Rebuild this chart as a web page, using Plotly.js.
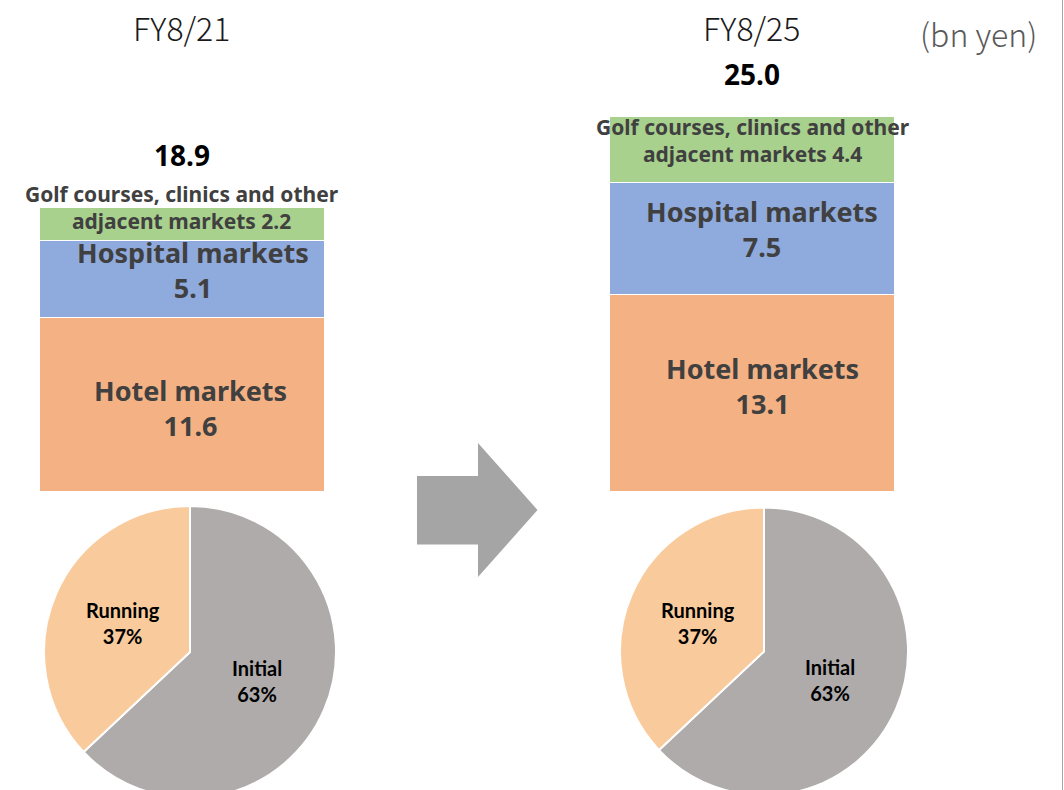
<!DOCTYPE html>
<html><head><meta charset="utf-8">
<script src="https://cdn.plot.ly/plotly-3.0.1.min.js"></script>
<style>html,body{margin:0;padding:0;overflow:hidden;background:#fff}</style>
</head><body><div id="chart" style="width:1064px;height:820px"></div>
<script>
// ---- data ----
const years = ['FY8/21', 'FY8/25'];
const hotel = [11.6, 13.1];
const hospital = [5.1, 7.5];
const golf = [2.2, 4.4];
const segmentLabels = ['Hotel markets', 'Hospital markets', 'Golf courses, clinics and other<br>adjacent markets'];
const revenueTypes = ['Initial', 'Running'];
const revenueShareFY21 = [63, 37];
const revenueShareFY25 = [63, 37];
const unitLabel = '(bn yen)';

// ---- layout helpers ----
const W = 1064, H = 820;
const px = x => x / W;
const py = y => (H - y) / H;

const barColors = ['#F4B183', '#8FAADC', '#A9D18E'];
const pieColors = ['#AFABAB', '#F9CB9C'];
const labelFont = {family: 'Noto Sans, sans-serif', size: 27, color: '#404040', weight: 700};
const golfFont = {family: 'Noto Sans, sans-serif', size: 21, color: '#404040', weight: 700};

const series = [hotel, hospital, golf];
const traces = series.map((vals, k) => ({
  type: 'bar', x: years, y: vals, width: 0.5,
  marker: {color: barColors[k], line: {color: '#ffffff', width: 1}},
  hoverinfo: 'skip', showlegend: false, xaxis: 'x', yaxis: 'y'
}));

// pies
const pieGeom = [
  {cx: 190, cy: 652, r: 146, vals: revenueShareFY21},
  {cx: 764, cy: 651.5, r: 144, vals: revenueShareFY25}
];
pieGeom.forEach(g => {
  traces.push({
    type: 'pie', labels: revenueTypes, values: g.vals, sort: false,
    direction: 'clockwise', rotation: 0, textinfo: 'none', hoverinfo: 'skip',
    marker: {colors: pieColors, line: {color: '#ffffff', width: 2}},
    domain: {x: [px(g.cx - g.r), px(g.cx + g.r)], y: [py(g.cy + g.r), py(g.cy - g.r)]},
    showlegend: false
  });
});

const annotations = [];
const C = {xanchor: 'center', yanchor: 'middle', showarrow: false};
// segment labels inside bars
const shifts = [
  {x: [9, 11], y: [-4, 7]},
  {x: [11, 10], y: [9, 9.5]},
  {x: [0, 1], y: [17, 9]}
];
years.forEach((yr, i) => {
  let base = 0;
  series.forEach((vals, k) => {
    const v = vals[i];
    annotations.push(Object.assign({
      x: yr, y: base + v / 2, xref: 'x', yref: 'y',
      text: segmentLabels[k] + (k === 2 ? ' ' : '<br>') + v.toFixed(1),
      font: k === 2 ? golfFont : labelFont,
      xshift: shifts[k].x[i], yshift: shifts[k].y[i]
    }, C));
    base += v;
  });
  // totals
  const total = hotel[i] + hospital[i] + golf[i];
  annotations.push(Object.assign({
    x: yr, y: total, xref: 'x', yref: 'y', text: total.toFixed(1),
    font: {family: 'Noto Sans, sans-serif', size: 28, color: '#000000', weight: 700},
    yshift: [53, 42][i]
  }, C));
  // year titles
  annotations.push(Object.assign({
    x: yr, y: py(27), xref: 'x', yref: 'paper', text: yr,
    font: {family: 'Noto Sans CJK JP, sans-serif', size: 32, color: '#1a1a1a', weight: 300}
  }, C));
});
// unit
annotations.push(Object.assign({
  x: px(978), y: py(33), xref: 'paper', yref: 'paper', text: unitLabel,
  font: {family: 'Noto Sans CJK JP, sans-serif', size: 32, color: '#595959', weight: 300}
}, C));
// pie labels
pieGeom.forEach(g => {
  const sum = g.vals.reduce((a, b) => a + b, 0);
  let cum = 0;
  g.vals.forEach((v, j) => {
    const th = 2 * Math.PI * (cum + v / 2) / sum;
    const lx = g.cx + 0.5 * g.r * Math.sin(th);
    const ly = g.cy - 0.5 * g.r * Math.cos(th);
    annotations.push(Object.assign({
      x: px(lx), y: py(ly), xref: 'paper', yref: 'paper',
      text: revenueTypes[j] + '<br>' + Math.round(v / sum * 100) + '%',
      font: {family: 'Lato, sans-serif', size: 20, color: '#000000', weight: 700}
    }, C));
    cum += v;
  });
});

// arrow
const arrowPts = [[417, 476], [478, 476], [478, 443], [537.5, 510], [478, 577], [478, 544.5], [417, 544.5]];
const arrowPath = 'M' + arrowPts.map(p => px(p[0]).toFixed(5) + ',' + py(p[1]).toFixed(5)).join(' L') + ' Z';

const layout = {
  width: W, height: H,
  margin: {l: 0, r: 0, t: 0, b: 0},
  paper_bgcolor: '#ffffff', plot_bgcolor: 'rgba(0,0,0,0)',
  barmode: 'stack',
  xaxis: {domain: [px(10.5), px(922.5)], range: [-0.3, 1.3], type: 'category',
          categoryarray: years, visible: false, fixedrange: true},
  yaxis: {domain: [py(491), py(41)], range: [0, 30], visible: false, fixedrange: true},
  annotations: annotations,
  shapes: [
    {type: 'path', path: arrowPath, xref: 'paper', yref: 'paper', fillcolor: '#A5A5A5', line: {width: 0}},
    {type: 'line', xref: 'paper', yref: 'paper', x0: px(1062.5), x1: px(1062.5), y0: 0, y1: 1,
     line: {color: '#A6A6A6', width: 1}}
  ],
  showlegend: false
};

Plotly.newPlot('chart', traces, layout, {displayModeBar: false, staticPlot: true});
</script></body></html>
